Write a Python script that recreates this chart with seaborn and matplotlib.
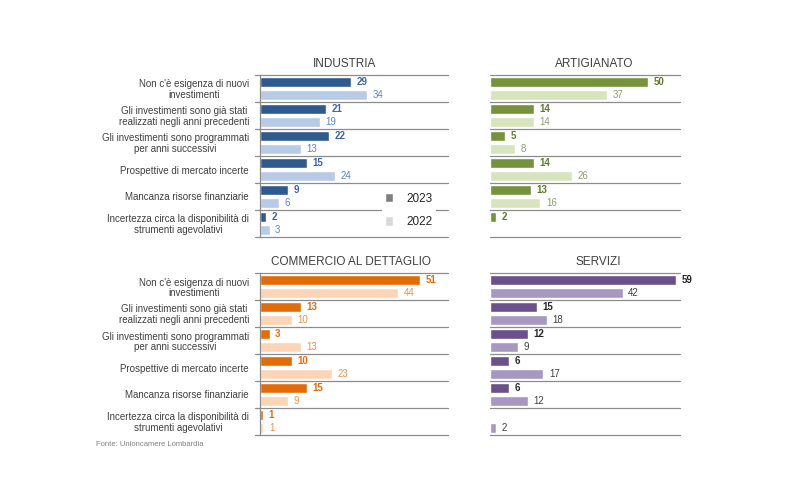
import pandas as pd
import matplotlib.pyplot as plt
import seaborn as sns
from matplotlib.patches import Patch

# Dati (percentuali)
categorie = [
    "Non c'è esigenza di nuovi\ninvestimenti",
    "Gli investimenti sono già stati\nrealizzati negli anni precedenti",
    "Gli investimenti sono programmati\nper anni successivi",
    "Prospettive di mercato incerte",
    "Mancanza risorse finanziarie",
    "Incertezza circa la disponibilità di\nstrumenti agevolativi",
]
anni = ["2023", "2022"]

industria_2023 = [29, 21, 22, 15, 9, 2]
industria_2022 = [34, 19, 13, 24, 6, 3]
artigianato_2023 = [50, 14, 5, 14, 13, 2]
artigianato_2022 = [37, 14, 8, 26, 16, None]
commercio_2023 = [51, 13, 3, 10, 15, 1]
commercio_2022 = [44, 10, 13, 23, 9, 1]
servizi_2023 = [59, 15, 12, 6, 6, None]
servizi_2022 = [42, 18, 9, 17, 12, 2]

titoli = ["INDUSTRIA", "ARTIGIANATO", "COMMERCIO AL DETTAGLIO", "SERVIZI"]
fonte = "Fonte: Unioncamere Lombardia"


def to_long(v2023, v2022):
    df = pd.DataFrame({
        "categoria": categorie * 2,
        "anno": ["2023"] * len(categorie) + ["2022"] * len(categorie),
        "valore": list(v2023) + list(v2022),
    })
    return df.dropna()


def main():
    sns.set_style("white")
    plt.rcParams["font.family"] = ["Liberation Sans", "DejaVu Sans"]

    fig = plt.figure(figsize=(8.08, 5.0), dpi=100)

    pannelli = [
        # (dati, posizione, colori barre, colori etichette, etichette asse, x titolo)
        (to_long(industria_2023, industria_2022), [0.322, 0.526, 0.233, 0.324],
         ["#2F5A8E", "#B7CAE6"], ["#3A66A8", "#5B84C4"], True, 0.45),
        (to_long(artigianato_2023, artigianato_2022), [0.606, 0.526, 0.235, 0.324],
         ["#76923C", "#D7E4BD"], ["#5E7A2A", "#8C9A74"], False, 0.55),
        (to_long(commercio_2023, commercio_2022), [0.322, 0.130, 0.233, 0.324],
         ["#E36C09", "#FBD5B5"], ["#E36C09", "#E8934A"], True, 0.48),
        (to_long(servizi_2023, servizi_2022), [0.606, 0.130, 0.235, 0.324],
         ["#6B518C", "#A798C2"], ["#262626", "#404040"], False, 0.57),
    ]

    for (df, pos, colori, col_lab, mostra_y, xt), titolo in zip(pannelli, titoli):
        ax = fig.add_axes(pos)
        sns.barplot(data=df, y="categoria", x="valore", hue="anno",
                    order=categorie, hue_order=anni, palette=colori,
                    orient="h", width=0.95, gap=0.22, saturation=1,
                    legend=False, ax=ax)
        for cont, c, peso in zip(ax.containers, col_lab, ["bold", "normal"]):
            ax.bar_label(cont, fmt="%d", padding=4, color=c,
                         fontsize=7, fontweight=peso)

        ax.set_xlim(0, 60)
        ax.set_ylim(len(categorie) - 0.5, -0.5)
        for i in range(len(categorie) + 1):
            ax.axhline(i - 0.5, xmin=-0.025 if mostra_y else 0, xmax=1,
                       color="#8C8C8C", lw=0.9, clip_on=False, zorder=0)

        ax.set_xlabel("")
        ax.set_ylabel("")
        ax.set_xticks([])
        for s in ["top", "right", "bottom"]:
            ax.spines[s].set_visible(False)
        if mostra_y:
            ax.spines["left"].set_color("#8C8C8C")
            ax.spines["left"].set_linewidth(0.9)
            ax.tick_params(axis="y", length=0, pad=8)
            ax.set_yticks(range(len(categorie)))
            ax.set_yticklabels(categorie, fontsize=7, color="#404040",
                               multialignment="center", linespacing=1.05)
        else:
            ax.spines["left"].set_visible(False)
            ax.set_yticks([])

        ax.set_title(titolo, fontsize=8.5, color="#404040", x=xt, pad=6)

        if titolo == "INDUSTRIA":
            handles = [Patch(facecolor="#7F7F7F"), Patch(facecolor="#D9D9D9")]
            leg = ax.legend(handles, anni, loc="center",
                            bbox_to_anchor=(0.79, 0.165), frameon=True,
                            fontsize=8.5, handlelength=0.7, handleheight=0.9,
                            handletextpad=1.1, labelspacing=0.95,
                            borderpad=0.3)
            leg.get_frame().set_facecolor("white")
            leg.get_frame().set_edgecolor("none")
            leg.get_frame().set_alpha(1)

    fig.text(96 / 808, 1 - 444 / 500, fonte, fontsize=5.5, color="#7F7F7F",
             va="center")

    plt.savefig("out.png", dpi=100)
    plt.close()


if __name__ == "__main__":
    main()
